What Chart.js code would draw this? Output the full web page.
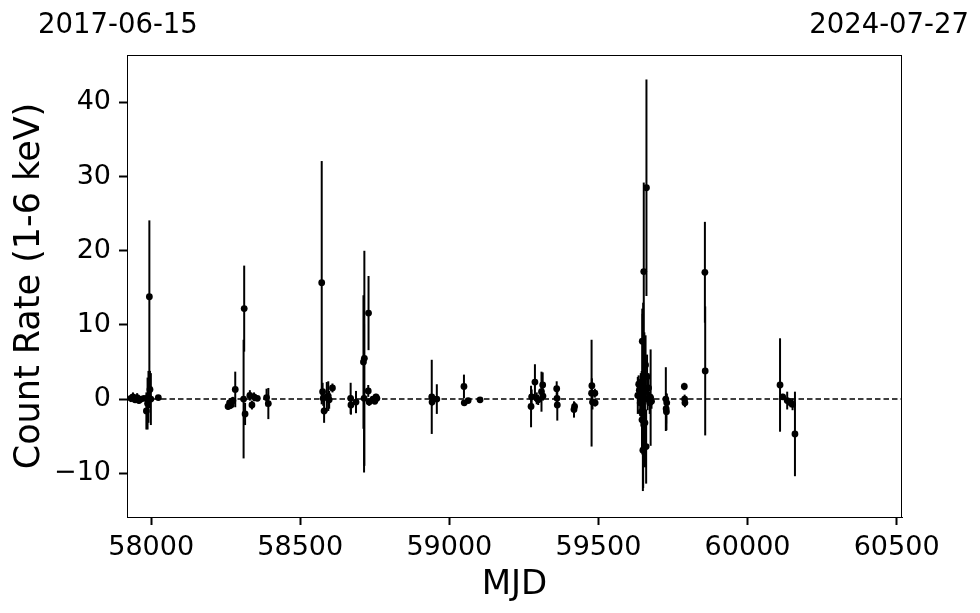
<!DOCTYPE html>
<html>
<head>
<meta charset="utf-8">
<script src="https://cdn.jsdelivr.net/npm/chart.js@4/dist/chart.umd.min.js"></script>
<style>
html,body{margin:0;padding:0;background:#fff;}
#wrap{width:980px;height:613px;position:relative;}
</style>
</head>
<body>
<div id="wrap"><canvas id="c" width="980" height="613"></canvas></div>
<script>
// MJD of each observation
const mjd = [
57932,57939,57946,57953,57959,57966,57976,57984,57988,57991,57994,57996,57999,58024,
58258,58263,58268,58271,58274,58282,58310,58312,58315,58331,58338,58345,58356,58387,58393,
58572,58575,58577,58580,58589,58594,58597,58608,
58669,58670,58687,58712,58714,58715,58728,58729,58731,58744,58750,58754,58757,
58941,58942,58958,59049,59050,59063,59103,
59274,59276,59287,59293,59298,59309,59313,59314,59360,59361,59362,59418,59420,59477,59478,59480,59488,59489,
59632,59635,59637,59640,59642,59644,59645,59646,59647,59648,59649,59650,59652,59654,59656,59658,59660,59661,59663,59665,59668,59672,59675,59678,
59726,59727,59728,59729,59788,59789,59790,
59857,59858,60109,60118,60133,60144,60151,60159
];
// Count rate (1-6 keV)
const rate = [
0.1,0.3,-0.1,0.2,-0.2,0.0,0.1,-1.6,-0.6,0.3,13.8,1.3,0.0,0.2,
-1.0,-0.5,-0.8,-0.3,-0.2,1.3,0.0,12.2,-2.0,0.5,-0.8,0.3,0.1,0.2,-0.6,
15.7,1.0,0.1,-1.6,0.3,0.4,-0.1,1.5,
0.1,-0.8,-0.4,5.0,0.1,5.5,1.1,11.6,-0.4,0.0,-0.3,0.3,0.1,
0.3,-0.4,0.0,1.7,-0.5,-0.2,-0.1,
-1.0,0.3,2.3,0.1,-0.1,1.0,1.9,0.4,1.4,0.1,-0.8,-1.4,-1.0,0.8,1.8,-0.4,0.8,-0.5,
0.5,2.0,1.2,-0.5,1.5,-1.7,0.3,-2.8,7.8,2.0,-6.9,0.5,17.2,1.0,-3.2,4.6,-6.4,28.5,3.0,0.0,1.5,-0.5,0.2,-0.3,
0.0,-1.3,-1.7,-0.5,1.7,0.0,-0.5,
17.1,3.8,1.9,0.3,-0.2,-0.5,-0.7,-4.7
];
// 1-sigma uncertainty
const err = [
0.5,0.6,0.4,0.6,0.4,0.3,0.3,2.5,3.5,3.5,10.3,2.5,3.5,0.2,
0.4,0.6,0.5,0.5,0.5,2.4,8.0,5.8,1.5,0.7,0.6,0.6,0.3,1.2,2.1,
16.4,1.2,1.0,1.6,2.0,2.0,1.2,0.6,
2.1,1.3,1.5,9.0,10.0,14.5,0.8,5.0,0.5,0.4,0.3,0.4,0.3,
5.0,0.5,2.0,1.6,0.3,0.3,0.1,
2.8,1.0,2.4,0.8,0.7,2.7,1.7,0.6,1.0,1.2,2.1,1.1,0.6,7.2,1.0,1.0,0.6,0.5,
2.5,1.2,1.5,1.8,2.0,2.0,3.5,4.5,4.4,9.5,5.5,12.5,12.0,8.0,6.0,4.0,5.0,14.6,3.0,1.5,2.0,1.5,6.5,1.0,
4.3,2.0,2.5,1.2,0.5,0.6,0.6,
6.8,8.7,6.3,0.4,1.2,0.6,0.8,5.7
];
const xTicks = [58000,58500,59000,59500,60000,60500];
const yTicks = [-10,0,10,20,30,40];
const xRange = [57919, 60518];
const yRange = [-15.9, 46.4];
const dateLabels = ["2017-06-15", "2024-07-27"];

const FONT = "'DejaVu Sans', sans-serif";
const pts = mjd.map((m,i)=>({x:m, y:rate[i], e:err[i]}));

const errPlugin = {
  id:'errbars',
  beforeDatasetsDraw(chart){
    const {ctx, scales:{x,y}, chartArea:a} = chart;
    ctx.save();
    ctx.beginPath(); ctx.rect(a.left,a.top,a.right-a.left,a.bottom-a.top); ctx.clip();
    ctx.strokeStyle='#000'; ctx.lineWidth=2;
    pts.forEach(p=>{
      const px = x.getPixelForValue(p.x);
      ctx.beginPath();
      ctx.moveTo(px, y.getPixelForValue(p.y - p.e));
      ctx.lineTo(px, y.getPixelForValue(p.y + p.e));
      ctx.stroke();
    });
    ctx.restore();
  },
  afterDraw(chart){
    const {ctx, chartArea:a} = chart;
    ctx.save();
    ctx.strokeStyle='#000'; ctx.lineWidth=1;
    ctx.strokeRect(a.left+0.5, a.top+0.5, a.right-a.left-1, a.bottom-a.top);
    ctx.fillStyle='#000';
    ctx.font = "27.5px " + FONT;
    ctx.textBaseline='alphabetic';
    ctx.textAlign='left';
    ctx.fillText(dateLabels[0], 38, 33);
    ctx.textAlign='right';
    ctx.fillText(dateLabels[1], 969, 33);
    ctx.restore();
  }
};

new Chart(document.getElementById('c'), {
  type:'scatter',
  data:{datasets:[
    {data:pts, backgroundColor:'#000', borderColor:'#000', pointRadius:3.4, pointHoverRadius:3.4, borderWidth:0, order:1},
    {type:'line', data:[{x:xRange[0],y:0},{x:xRange[1],y:0}], borderColor:'#000', borderWidth:1.5, borderDash:[5.5,3], pointRadius:0, order:2}
  ]},
  options:{
    responsive:false, animation:false, devicePixelRatio:1,
    layout:{padding:{left:0,right:78,top:55,bottom:0}},
    plugins:{legend:{display:false}, tooltip:{enabled:false}},
    scales:{
      x:{type:'linear', min:xRange[0], max:xRange[1],
        afterBuildTicks(s){ s.ticks = xTicks.map(v=>({value:v})); },
        afterFit(s){ s.height = 96; },
        grid:{drawOnChartArea:false, tickLength:8, tickWidth:2, tickColor:'#000'},
        border:{display:true,color:'#000',width:1},
        ticks:{color:'#000', font:{family:FONT,size:27}, padding:7, maxRotation:0, autoSkip:false, callback:v=>String(v)},
        title:{display:true, text:'MJD', color:'#000', font:{family:FONT,size:34}, padding:{top:0,bottom:7}}
      },
      y:{type:'linear', min:yRange[0], max:yRange[1],
        afterBuildTicks(s){ s.ticks = yTicks.map(v=>({value:v})); },
        afterFit(s){ s.width = 127; },
        grid:{drawOnChartArea:false, tickLength:8, tickWidth:2, tickColor:'#000'},
        border:{display:true,color:'#000',width:1},
        ticks:{color:'#000', font:{family:FONT,size:27}, padding:8, autoSkip:false, callback:v=>String(v).replace('-','\u2212')},
        title:{display:true, text:'Count Rate (1-6 keV)', color:'#000', font:{family:FONT,size:35}, padding:{top:9,bottom:0}}
      }
    }
  },
  plugins:[errPlugin]
});
</script>
</body>
</html>
